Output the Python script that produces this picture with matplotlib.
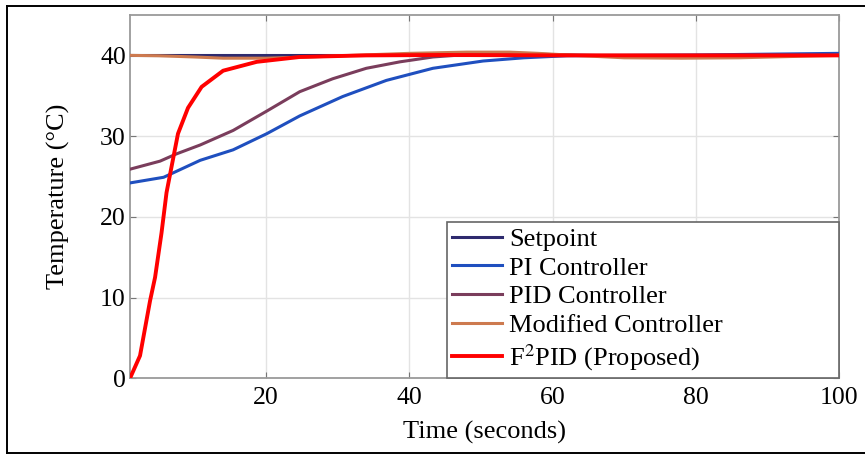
import matplotlib
matplotlib.use("Agg")
import matplotlib.pyplot as plt
from matplotlib.lines import Line2D

plt.rcParams['font.family'] = ['Liberation Serif', 'DejaVu Serif']
plt.rcParams['mathtext.fontset'] = 'stix'

# data
t_set = [1, 100]
y_set = [40, 40]

t_pi = [1, 5.7, 10.8, 15.4, 20.1, 24.7, 30.7, 36.8, 43.3, 50.3, 56, 62, 70, 80, 90, 100]
y_pi = [24.2, 24.9, 27.0, 28.3, 30.3, 32.5, 34.9, 36.9, 38.4, 39.3, 39.7, 39.95, 40.0, 40.05, 40.15, 40.25]

t_pid = [1, 5.2, 7.5, 10.8, 15.4, 20.1, 24.7, 29.3, 34.0, 38.7, 43.3, 48.0, 54, 60, 66, 75, 85, 100]
y_pid = [25.9, 26.9, 27.8, 28.9, 30.7, 33.1, 35.5, 37.1, 38.4, 39.2, 39.8, 40.1, 40.25, 40.1, 40.0, 39.95, 40.0, 40.0]

t_mod = [1, 5, 10, 14, 20, 26, 32, 40, 48, 54, 58, 63, 70, 78, 86, 93, 100]
y_mod = [40.0, 39.95, 39.8, 39.65, 39.65, 39.8, 40.0, 40.25, 40.4, 40.4, 40.25, 40.0, 39.7, 39.65, 39.7, 39.85, 40.0]

t_f2 = [1, 2.4, 3.8, 4.5, 5.4, 6.1, 6.8, 7.7, 9.1, 11.0, 14.0, 18.7, 24.7, 34.0, 45, 60, 80, 100]
y_f2 = [0, 2.8, 9.6, 12.5, 18, 23, 26.2, 30.3, 33.5, 36.1, 38.1, 39.2, 39.8, 40.0, 40.05, 40.0, 40.0, 40.0]

x_ticks = [20, 40, 60, 80, 100]
y_ticks = [0, 10, 20, 30, 40]

fig = plt.figure(figsize=(8.65, 4.54), dpi=100)
ax = fig.add_axes([130 / 865, 1 - 378.3 / 454, (839 - 130) / 865, (378.3 - 15) / 454])

ax.plot(t_set, y_set, color='#2e2a6e', lw=2.2, label='Setpoint', zorder=3)
ax.plot(t_pi, y_pi, color='#1f4fbf', lw=2.2, label='PI Controller', zorder=3)
ax.plot(t_pid, y_pid, color='#7a3d5c', lw=2.2, label='PID Controller', zorder=3)
ax.plot(t_mod, y_mod, color='#cd7a4f', lw=2.2, label='Modified Controller', zorder=3)
ax.plot(t_f2, y_f2, color='#ff0000', lw=2.8, label='F$^{2}$PID (Proposed)', zorder=4)

ax.set_xlim(1, 100)
ax.set_ylim(0, 45)
ax.set_xticks(x_ticks)
ax.set_yticks(y_ticks)
ax.grid(True, color='#e3e3e3', lw=1)
ax.set_axisbelow(True)

for s in ax.spines.values():
    s.set_color('#9a9a9a')
    s.set_linewidth(1.3)
ax.tick_params(direction='in', length=4, color='#777777', top=True, right=True,
               labelsize=18.5, pad=3)
ax.tick_params(axis='x', pad=6)

ax.set_xlabel('Time (seconds)', fontsize=19, labelpad=9)
ax.set_ylabel('Temperature (°C)', fontsize=19, labelpad=22)

leg_x0 = (447 - 130) / 709
leg = ax.legend(loc='lower left', bbox_to_anchor=(leg_x0, 0, 1 - leg_x0, 0.3),
                mode='expand', borderaxespad=0,
                fontsize=19, fancybox=False, framealpha=1, edgecolor='#666666',
                handlelength=1.9, handletextpad=0.25, labelspacing=0.2,
                borderpad=0.2)
leg.get_frame().set_linewidth(1.2)

# outer frame around the whole picture
for xs, ys in [([7 / 865, 1.01], [1 - 5.7 / 454] * 2),
               ([7 / 865, 1.01], [1 - 452.5 / 454] * 2),
               ([7 / 865] * 2, [1 - 5.7 / 454, 1 - 452.5 / 454])]:
    fig.add_artist(Line2D(xs, ys, color='black', lw=1.4, transform=fig.transFigure))

fig.savefig('out.png', dpi=100)
